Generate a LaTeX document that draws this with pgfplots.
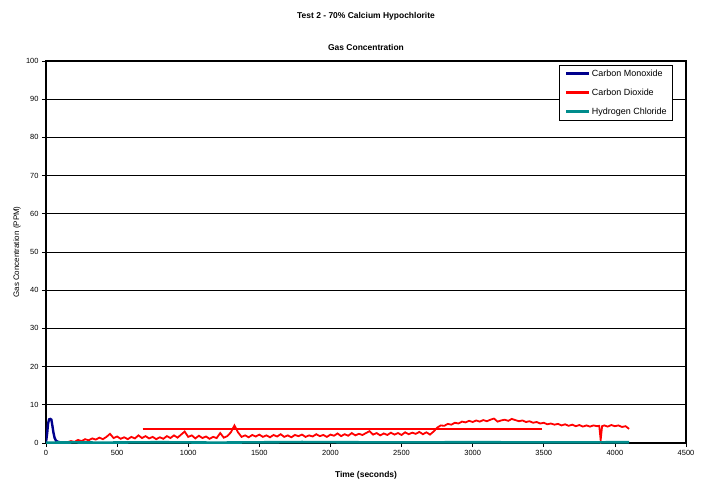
\documentclass[border=0pt]{standalone}
\usepackage{pgfplots}
\pgfplotsset{compat=1.18}
\usepackage{fontspec}
\setmainfont{Liberation Sans}
\definecolor{coblue}{RGB}{0,0,140}
\definecolor{cored}{RGB}{255,0,0}
\definecolor{hclteal}{RGB}{0,140,140}
\begin{document}
\begin{tikzpicture}
\path[use as bounding box] (-46bp,-39bp) rectangle (660bp,443bp);
\begin{axis}[
  at={(0,0)}, anchor=south west,
  scale only axis, width=640bp, height=382bp,
  xmin=0, xmax=4500, ymin=0, ymax=100,
  xtick distance=500, ytick distance=10,
  axis line style={line width=1.1pt},
  ymajorgrids, major grid style={black, line width=0.7pt},
  tick align=outside, major tick length=4bp,
  tick style={black, line width=0.7pt},
  xtick pos=bottom, ytick pos=left,
  /pgf/number format/.cd, 1000 sep={}, assume math mode=true,
  /pgfplots/.cd,
  tick label style={font=\fontsize{7.5}{8}\selectfont},
  xlabel={Time (seconds)},
  ylabel={Gas Concentration (PPM)},
  xlabel style={font=\fontsize{8.5}{9}\selectfont\bfseries, at={(axis description cs:0.5,-0.084)}, anchor=center},
  ylabel style={font=\fontsize{8}{9}\selectfont, at={(axis description cs:-0.0453,0.5)}, anchor=center},
  legend style={at={(axis description cs:0.9797,0.9895)}, anchor=north east,
    font=\fontsize{9}{10}\selectfont, draw=black, line width=0.6pt,
    inner xsep=5bp, inner ysep=2.5bp, row sep=7bp, cells={anchor=west},
    nodes={inner xsep=1bp}},
  legend image code/.code={\draw[#1, line width=3.2bp] (0bp,0bp) -- (23bp,0bp);},
]
\addplot[coblue, line width=2.4bp] coordinates {
(0,0.2)(8,2.5)(15,5.2)(22,6.2)(30,6.3)(38,6.1)(45,4.5)(52,2.8)(60,1.4)(70,0.6)(85,0.3)(110,0.1)(150,0.05)
};
\addlegendentry{Carbon Monoxide}
\addplot[cored, line width=1.8bp] coordinates {
(150,0.2)(175,0.5)(200,0.3)(225,0.8)(250,0.5)(275,1.0)(300,0.7)(325,1.2)(350,0.9)(375,1.4)
(400,1.0)(425,1.6)(450,2.4)(475,1.3)(500,1.7)(525,1.1)(550,1.5)(575,1.0)(600,1.6)(625,1.2)
(650,2.0)(675,1.3)(700,1.8)(725,1.2)(750,1.6)(775,1.0)(800,1.5)(825,1.1)(850,1.8)(875,1.3)
(900,2.0)(925,1.4)(950,2.2)(975,3.0)(1000,1.6)(1025,2.0)(1050,1.2)(1075,1.9)(1100,1.3)(1125,1.7)
(1150,1.1)(1175,1.6)(1200,1.3)(1225,2.6)(1250,1.4)(1275,1.8)(1300,2.8)(1325,4.6)(1350,2.8)(1375,1.6)
(1400,2.0)(1425,1.5)(1450,2.1)(1475,1.7)(1500,2.2)(1525,1.6)(1550,2.0)(1575,1.5)(1600,2.1)(1625,1.7)
(1650,2.3)(1675,1.6)(1700,2.0)(1725,1.5)(1750,2.1)(1775,1.8)(1800,2.2)(1825,1.6)(1850,2.0)(1875,1.7)
(1900,2.3)(1925,1.8)(1950,2.1)(1975,1.6)(2000,2.2)(2025,1.9)(2050,2.5)(2075,1.8)(2100,2.3)(2125,1.9)
(2150,2.6)(2175,2.0)(2200,2.4)(2225,2.1)(2250,2.6)(2275,3.1)(2300,2.2)(2325,2.6)(2350,2.0)(2375,2.5)
(2400,2.1)(2425,2.7)(2450,2.2)(2475,2.6)(2500,2.1)(2525,2.8)(2550,2.3)(2575,2.7)(2600,2.4)(2625,2.9)
(2650,2.3)(2675,2.8)(2700,2.2)(2725,3.0)(2750,4.0)(2775,4.6)(2800,4.5)(2825,5.0)(2850,4.8)(2875,5.3)
(2900,5.1)(2925,5.6)(2950,5.4)(2975,5.8)(3000,5.5)(3025,5.9)(3050,5.6)(3075,6.0)(3100,5.7)(3125,6.1)
(3150,6.4)(3175,5.6)(3200,5.9)(3225,6.1)(3250,5.8)(3275,6.3)(3300,6.0)(3325,5.7)(3350,5.9)(3375,5.5)
(3400,5.7)(3425,5.3)(3450,5.5)(3475,5.1)(3500,5.3)(3525,4.9)(3550,5.1)(3575,4.8)(3600,5.0)(3625,4.6)
(3650,4.9)(3675,4.5)(3700,4.8)(3725,4.4)(3750,4.7)(3775,4.3)(3800,4.6)(3825,4.3)(3850,4.6)(3875,4.4)
(3890,4.5)(3900,0.8)(3910,4.4)(3925,4.6)(3950,4.3)(3975,4.7)(4000,4.4)(4025,4.6)(4050,4.2)(4075,4.4)(4100,3.7)
};
\addlegendentry{Carbon Dioxide}
\addplot[hclteal, line width=2.6bp] coordinates {
(0,0.1)(200,0.15)(400,0.1)(800,0.2)(1200,0.1)(1800,0.25)(2400,0.15)(3000,0.2)(3600,0.15)(4100,0.2)
};
\addlegendentry{Hydrogen Chloride}
\addplot[cored, line width=2bp, forget plot] coordinates {(680,3.7)(3490,3.7)};
\end{axis}
\node[font=\fontsize{8.5}{9}\selectfont\bfseries] at (320bp,427bp) {Test 2 - 70\% Calcium Hypochlorite};
\node[font=\fontsize{8.5}{9}\selectfont\bfseries] at (320bp,396bp) {Gas Concentration};
\end{tikzpicture}
\end{document}
